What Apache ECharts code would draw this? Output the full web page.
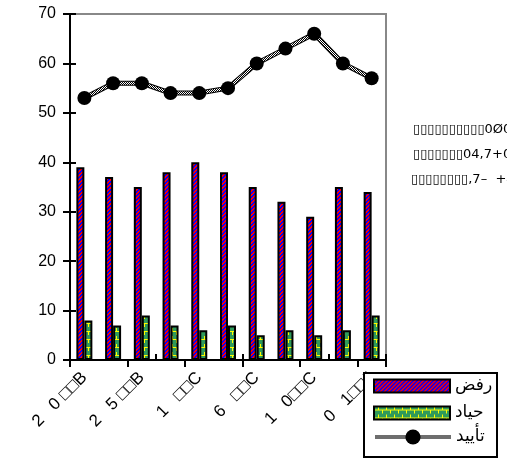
<!DOCTYPE html>
<html>
<head>
<meta charset="utf-8">
<script src="https://cdn.jsdelivr.net/npm/echarts@6/dist/echarts.min.js"></script>
<style>
html,body{margin:0;padding:0;background:#fff;}
#chart{width:507px;height:461px;}
</style>
</head>
<body>
<div id="chart"></div>
<script>
// Period labels along the x axis (every other one is shown)
var categories = ['2   0 □□B', '2   2 □□B', '2   5 □□B', '2   8 □□B', '1   □□C', '3   □□C', '6   □□C', '8   □□C', '1   0□□C', '1   2□□C', '0   1□□#'];
// Series values (percent)
var rejectValues  = [39, 37, 35, 38, 40, 38, 35, 32, 29, 35, 34];
var neutralValues = [8, 7, 9, 7, 6, 7, 5, 6, 5, 6, 9];
var supportValues = [53, 56, 56, 54, 54, 55, 60, 63, 66, 60, 57];
var seriesNames = ['رفض', 'حياد', 'تأييد'];
var sideNotes = ['▯▯▯▯▯▯▯▯▯▯0Ø04', '▯▯▯▯▯▯▯04,7+0', '▯▯▯▯▯▯▯▯,7–  +4'];

function makePattern(w, h, draw) {
  var c = document.createElement('canvas');
  c.width = w; c.height = h;
  var ctx = c.getContext('2d');
  draw(ctx);
  return { image: c, repeat: 'repeat' };
}
// red / blue diagonal hatch
var redBlue = makePattern(4, 4, function (ctx) {
  ctx.fillStyle = '#ff0000'; ctx.fillRect(0, 0, 4, 4);
  ctx.fillStyle = '#0000ff';
  for (var i = 0; i < 4; i++) { ctx.fillRect(i, (3 - i) % 4, 1, 1); ctx.fillRect(i, (4 - i) % 4, 1, 1); }
});
// green with yellow brick lines
var greenBrick = makePattern(8, 8, function (ctx) {
  ctx.fillStyle = '#2f9a5a'; ctx.fillRect(0, 0, 8, 8);
  ctx.fillStyle = '#ffff00';
  ctx.fillRect(0, 3, 8, 1);
  ctx.fillRect(4, 0, 1, 3);
  ctx.fillRect(0, 4, 1, 3);
});
// fine black/white checker used inside the line
var checker = makePattern(2, 2, function (ctx) {
  ctx.fillStyle = '#ffffff'; ctx.fillRect(0, 0, 2, 2);
  ctx.fillStyle = '#000000'; ctx.fillRect(0, 0, 1, 1); ctx.fillRect(1, 1, 1, 1);
});

var chart = echarts.init(document.getElementById('chart'), null, { renderer: 'canvas' });
var font = 'Liberation Sans, Arial, sans-serif';
var legendText = { fontSize: 17, color: '#000', fontFamily: 'DejaVu Sans, sans-serif' };

var notes = sideNotes.map(function (t, i) {
  return {
    type: 'text', left: 413 - (i === 2 ? 2 : 0), top: 123 + i * 25,
    style: { text: t, fill: '#000', font: '13px DejaVu Sans' }
  };
});
// frame behind the two legend blocks
notes.push({
  type: 'rect', z: 3,
  shape: { x: 364, y: 373, width: 133, height: 84 },
  style: { fill: '#fff', stroke: '#000', lineWidth: 2 }
});

chart.setOption({
  animation: false,
  textStyle: { fontFamily: font },
  grid: { left: 70, top: 14, width: 316, height: 346, show: true, borderColor: '#888888', borderWidth: 2 },
  legend: [{
    orient: 'vertical', left: 373, top: 377.5, padding: 0,
    align: 'left', itemWidth: 76, itemHeight: 13, itemGap: 10,
    data: [{ name: seriesNames[0], icon: 'rect' }, { name: seriesNames[1], icon: 'rect' }],
    textStyle: legendText, z: 5
  }, {
    orient: 'vertical', left: 373, top: 428.5, padding: 0,
    align: 'left', itemWidth: 76, itemHeight: 19,
    data: [{ name: seriesNames[2], lineStyle: { color: '#6e6e6e', width: 4 }, itemStyle: { color: '#000' } }],
    textStyle: legendText, z: 5
  }],
  xAxis: [{
    type: 'category', data: categories, boundaryGap: true,
    axisLine: { lineStyle: { color: '#000', width: 2 } },
    axisTick: { show: true, length: 7, lineStyle: { color: '#000', width: 2 } },
    axisLabel: { interval: 1, rotate: 45, fontSize: 17, color: '#000', margin: 15, fontFamily: font }
  }, {
    type: 'category', data: categories, boundaryGap: true, position: 'bottom',
    axisLine: { show: false },
    axisTick: { show: true, inside: true, length: 6, lineStyle: { color: '#000', width: 2 } },
    axisLabel: { show: false }
  }],
  yAxis: [{
    type: 'value', min: 0, max: 70, interval: 10,
    axisLine: { show: true, lineStyle: { color: '#000', width: 2 } },
    axisTick: { show: true, length: 7, lineStyle: { color: '#000', width: 2 } },
    axisLabel: { fontSize: 16, color: '#000', margin: 14, fontFamily: font },
    splitLine: { show: false }
  }, {
    type: 'value', min: 0, max: 70, interval: 10, position: 'left',
    axisLine: { show: false },
    axisTick: { show: true, inside: true, length: 6, lineStyle: { color: '#000', width: 2 } },
    axisLabel: { show: false },
    splitLine: { show: false }
  }],
  series: [{
    name: seriesNames[0], type: 'bar', data: rejectValues,
    barWidth: 8, barGap: '0%',
    itemStyle: { color: redBlue, borderColor: '#000', borderWidth: 2 }
  }, {
    name: seriesNames[1], type: 'bar', data: neutralValues,
    barWidth: 8, barGap: '0%',
    itemStyle: { color: greenBrick, borderColor: '#000', borderWidth: 2 }
  }, {
    name: '__outline', type: 'line', data: supportValues,
    symbol: 'none', lineStyle: { color: '#000', width: 5 }, z: 3, silent: true
  }, {
    name: seriesNames[2], type: 'line', data: supportValues,
    symbol: 'circle', symbolSize: 14,
    itemStyle: { color: '#000' },
    lineStyle: { color: checker, width: 3 }, z: 4
  }],
  graphic: notes
});
</script>
</body>
</html>
